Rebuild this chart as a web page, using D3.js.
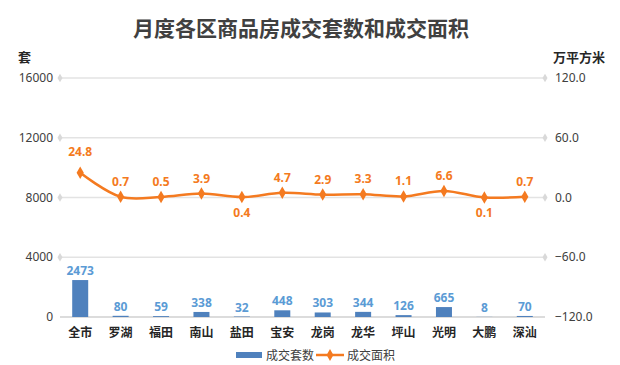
<!DOCTYPE html>
<html>
<head>
<meta charset="utf-8">
<script src="https://cdn.jsdelivr.net/npm/d3@7"></script>
<style>
  body { margin: 0; background: #fff; }
  text { font-family: "Noto Sans CJK SC", "Noto Sans", sans-serif; }
</style>
</head>
<body>
<svg width="620" height="365"></svg>
<script>
// data
const districts = ['全市', '罗湖', '福田', '南山', '盐田', '宝安', '龙岗', '龙华', '坪山', '光明', '大鹏', '深汕'];
const units = [2473, 80, 59, 338, 32, 448, 303, 344, 126, 665, 8, 70];
const area = [24.8, 0.7, 0.5, 3.9, 0.4, 4.7, 2.9, 3.3, 1.1, 6.6, 0.1, 0.7];
const leftTicks = [0, 4000, 8000, 12000, 16000];
const rightTicks = [-120, -60, 0, 60, 120];

const barColor = '#4f81bd';
const lineColor = '#f47a20';

const svg = d3.select('svg');

const x = d3.scaleBand().domain(districts).range([60, 545]);
const yL = d3.scaleLinear().domain([0, 16000]).range([317, 78]);
const yR = d3.scaleLinear().domain([-120, 120]).range([317, 78]);

// title
svg.append('text')
    .attr('x', 301).attr('y', 36)
    .attr('text-anchor', 'middle')
    .attr('font-size', 21).attr('font-weight', 'bold')
    .attr('fill', '#404040')
    .text('月度各区商品房成交套数和成交面积');

// axis titles
svg.append('text').attr('x', 18).attr('y', 62)
    .attr('font-size', 13).attr('font-weight', 'bold').attr('fill', '#262626')
    .text('套');
svg.append('text').attr('x', 553).attr('y', 62)
    .attr('font-size', 13).attr('font-weight', 'bold').attr('fill', '#262626')
    .text('万平方米');

// grid lines with diamond ends
const grid = svg.append('g');
leftTicks.forEach(t => {
    const y = yL(t);
    grid.append('line')
        .attr('x1', 60).attr('x2', 545)
        .attr('y1', y).attr('y2', y)
        .attr('stroke', t === 0 ? '#d0d0d0' : '#e3e3e3')
        .attr('stroke-width', 1.5);
    if (t !== 0) {
        [60, 545].forEach(px => {
            grid.append('path')
                .attr('d', d3.symbol(d3.symbolDiamond, 22)())
                .attr('transform', `translate(${px},${y})`)
                .attr('fill', '#d9d9d9');
        });
    }
});

// left tick labels
svg.append('g').selectAll('text').data(leftTicks).join('text')
    .attr('x', 53).attr('y', d => yL(d) + 4)
    .attr('text-anchor', 'end')
    .attr('font-size', 12).attr('fill', '#404040')
    .style('font-family', '"Noto Sans", sans-serif')
    .text(d => d);

// right tick labels
svg.append('g').selectAll('text').data(rightTicks).join('text')
    .attr('x', 555).attr('y', d => yR(d) + 4)
    .attr('font-size', 12).attr('fill', '#404040')
    .style('font-family', '"Noto Sans", sans-serif')
    .text(d => d3.format('.1f')(d));

// x labels
svg.append('g').selectAll('text').data(districts).join('text')
    .attr('x', d => x(d) + x.bandwidth() / 2).attr('y', 337)
    .attr('text-anchor', 'middle')
    .attr('font-size', 12).attr('font-weight', 'bold').attr('fill', '#262626')
    .text(d => d);

// bars
const barW = 16;
svg.append('g').selectAll('rect').data(units).join('rect')
    .attr('x', (d, i) => x(districts[i]) + x.bandwidth() / 2 - barW / 2)
    .attr('y', d => yL(d))
    .attr('width', barW)
    .attr('height', d => yL(0) - yL(d))
    .attr('fill', barColor);

svg.append('g').selectAll('text').data(units).join('text')
    .attr('x', (d, i) => x(districts[i]) + x.bandwidth() / 2)
    .attr('y', d => yL(d) - 5)
    .attr('text-anchor', 'middle')
    .attr('font-size', 12).attr('font-weight', 'bold').attr('fill', '#5b9bd5')
    .style('font-family', '"Noto Sans", sans-serif')
    .text(d => d);

// line
const line = d3.line()
    .x((d, i) => x(districts[i]) + x.bandwidth() / 2)
    .y(d => yR(d))
    .curve(d3.curveCatmullRom.alpha(0.5));

svg.append('path')
    .datum(area)
    .attr('d', line)
    .attr('fill', 'none')
    .attr('stroke', lineColor)
    .attr('stroke-width', 2.5);

svg.append('g').selectAll('path').data(area).join('path')
    .attr('d', d3.symbol(d3.symbolDiamond, 45)())
    .attr('transform', (d, i) => `translate(${x(districts[i]) + x.bandwidth() / 2},${yR(d)})`)
    .attr('fill', lineColor);

const below = new Set([4, 10]);
svg.append('g').selectAll('text').data(area).join('text')
    .attr('x', (d, i) => x(districts[i]) + x.bandwidth() / 2)
    .attr('y', (d, i) => below.has(i) ? yR(d) + 20 : (i === 0 ? yR(d) - 17 : yR(d) - 11))
    .attr('text-anchor', 'middle')
    .attr('font-size', 12).attr('font-weight', 'bold').attr('fill', lineColor)
    .style('font-family', '"Noto Sans", sans-serif')
    .text(d => d3.format('.1f')(d));

// legend
const lg = svg.append('g');
lg.append('rect').attr('x', 236).attr('y', 352).attr('width', 26).attr('height', 6).attr('fill', barColor);
lg.append('text').attr('x', 266).attr('y', 360).attr('font-size', 12).attr('fill', '#404040').text('成交套数');
lg.append('line').attr('x1', 316).attr('x2', 344).attr('y1', 355).attr('y2', 355)
    .attr('stroke', lineColor).attr('stroke-width', 2.5);
lg.append('path').attr('d', d3.symbol(d3.symbolDiamond, 40)())
    .attr('transform', 'translate(330,355)').attr('fill', lineColor);
lg.append('text').attr('x', 347).attr('y', 360).attr('font-size', 12).attr('fill', '#404040').text('成交面积');
</script>
</body>
</html>
